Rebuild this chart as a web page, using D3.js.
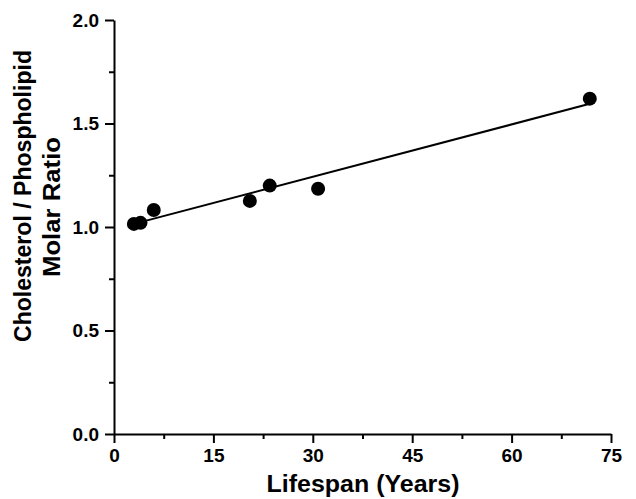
<!DOCTYPE html>
<html>
<head>
<meta charset="utf-8">
<script src="https://cdn.jsdelivr.net/npm/d3@7"></script>
<style>
  body { margin: 0; background: #fff; }
  svg { display: block; font-family: "Liberation Sans", Arial, sans-serif; }
  .axis text { font-family: "Liberation Sans", Arial, sans-serif; font-weight: bold; font-size: 19px; fill: #000; }
  .axis path, .axis line { stroke: #000; stroke-width: 2px; }
</style>
</head>
<body>
<svg id="chart" width="636" height="499"></svg>
<script>
// data
var lifespan = [3, 4, 6, 20.5, 23.5, 30.8, 71.8];
var cholRatio = [1.015, 1.02, 1.082, 1.126, 1.20, 1.185, 1.62];
// fitted line, end points
var fitX = [3, 71.8];
var fitY = [1.015, 1.595];
var xTicks = [0, 15, 30, 45, 60, 75];
var yTicks = [0, 0.5, 1.0, 1.5, 2.0];

var svg = d3.select("#chart");
var margin = {left: 114, top: 20, right: 25, bottom: 65};
var w = 636 - margin.left - margin.right,
    h = 499 - margin.top - margin.bottom;

var x = d3.scaleLinear().domain([0, 75]).range([0, w]);
var y = d3.scaleLinear().domain([0, 2]).range([h, 0]);

var g = svg.append("g").attr("transform", "translate(" + margin.left + "," + margin.top + ")");

// minor ticks first
var gxMinor = g.append("g").attr("class", "axis")
    .attr("transform", "translate(0," + h + ")")
    .call(d3.axisBottom(x).tickValues(d3.range(7.5, 75, 15)).tickSize(5).tickFormat(""));
gxMinor.select(".domain").remove();
var gyMinor = g.append("g").attr("class", "axis")
    .call(d3.axisLeft(y).tickValues([0.25, 0.75, 1.25, 1.75]).tickSize(5).tickFormat(""));
gyMinor.select(".domain").remove();

var gx = g.append("g").attr("class", "axis")
    .attr("transform", "translate(0," + h + ")")
    .call(d3.axisBottom(x).tickValues(xTicks).tickSize(9).tickPadding(6).tickSizeOuter(0));
var gy = g.append("g").attr("class", "axis")
    .call(d3.axisLeft(y).tickValues(yTicks).tickSize(9).tickPadding(6).tickSizeOuter(0)
      .tickFormat(d3.format(".1f")));

// fit line
var line = d3.line().x(function(d) { return x(d[0]); }).y(function(d) { return y(d[1]); });
g.append("path")
    .datum(d3.zip(fitX, fitY))
    .attr("d", line)
    .attr("fill", "none")
    .attr("stroke", "#000")
    .attr("stroke-width", 2);

g.selectAll(".dot")
    .data(d3.zip(lifespan, cholRatio))
    .enter().append("circle")
    .attr("class", "dot")
    .attr("cx", function(d) { return x(d[0]); })
    .attr("cy", function(d) { return y(d[1]); })
    .attr("r", 7)
    .attr("fill", "#000");

// axis titles
svg.append("text")
    .attr("x", 363).attr("y", 492)
    .attr("text-anchor", "middle")
    .attr("font-weight", "bold").attr("font-size", 23)
    .attr("textLength", 193).attr("lengthAdjust", "spacingAndGlyphs")
    .text("Lifespan (Years)");

svg.append("text")
    .attr("transform", "translate(31,196) rotate(-90)")
    .attr("text-anchor", "middle")
    .attr("font-weight", "bold").attr("font-size", 24)
    .attr("textLength", 292).attr("lengthAdjust", "spacingAndGlyphs")
    .text("Cholesterol / Phospholipid");
svg.append("text")
    .attr("transform", "translate(60,207) rotate(-90)")
    .attr("text-anchor", "middle")
    .attr("font-weight", "bold").attr("font-size", 24)
    .attr("textLength", 140).attr("lengthAdjust", "spacingAndGlyphs")
    .text("Molar Ratio");
</script>
</body>
</html>
